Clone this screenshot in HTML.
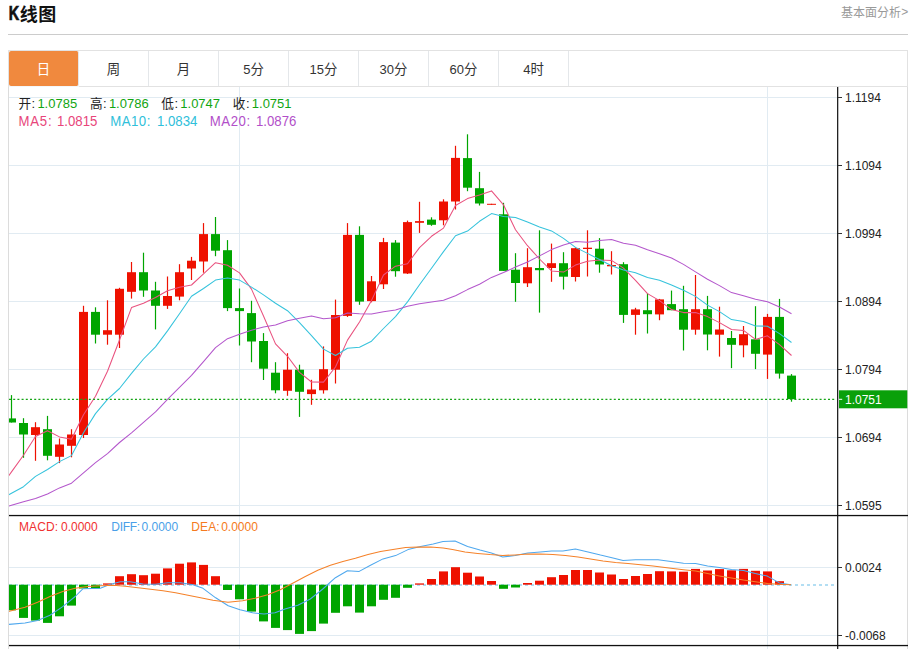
<!DOCTYPE html>
<html lang="zh-CN">
<head>
<meta charset="utf-8">
<title>K线图</title>
<style>
html,body{margin:0;padding:0;background:#fff;}
body{width:917px;height:649px;position:relative;overflow:hidden;font-family:"Liberation Sans","Noto Sans CJK SC",sans-serif;}
.rule{position:absolute;left:8px;top:34px;width:900px;height:1px;background:#ccc;}
.tabs{position:absolute;left:8px;top:50px;width:898px;height:35px;border:1px solid #e2e2e2;background:#fff;}
.tabs .tab{position:absolute;top:0;height:35px;width:69px;border-right:1px solid #e4e7ea;}
.tabs .tab.on{left:0;top:0;height:35px;width:69px;background:#f0893e;border-radius:2px;border-right:1px solid #e4e7ea;border-bottom:0;}
.tabs .under{position:absolute;left:0;top:35px;width:70px;height:1px;background:#f3f7fa;}
svg{position:absolute;left:0;top:0;}
svg text{font-family:"Liberation Sans","Noto Sans CJK SC",sans-serif;}
</style>
</head>
<body>
<div class="rule"></div>
<div class="tabs">
<div class="tab on"></div>
<div class="tab" style="left:70px"></div><div class="tab" style="left:140px"></div><div class="tab" style="left:210px"></div><div class="tab" style="left:280px"></div><div class="tab" style="left:350px"></div><div class="tab" style="left:420px"></div><div class="tab" style="left:490px"></div>
<div class="under"></div>
</div>
<svg width="917" height="649" viewBox="0 0 917 649">
<defs><clipPath id="cp"><rect x="9" y="87" width="828" height="562"/></clipPath></defs>
<rect x="9" y="97" width="828" height="1" fill="#e1ebf2"/>
<rect x="9" y="165" width="828" height="1" fill="#e1ebf2"/>
<rect x="9" y="233" width="828" height="1" fill="#e1ebf2"/>
<rect x="9" y="301" width="828" height="1" fill="#e1ebf2"/>
<rect x="9" y="369" width="828" height="1" fill="#e1ebf2"/>
<rect x="9" y="437" width="828" height="1" fill="#e1ebf2"/>
<rect x="9" y="505" width="828" height="1" fill="#e1ebf2"/>
<rect x="9" y="567" width="828" height="1" fill="#e1ebf2"/>
<rect x="9" y="635" width="828" height="1" fill="#e1ebf2"/>
<rect x="239" y="87" width="1" height="562" fill="#e1ebf2"/>
<rect x="767" y="87" width="1" height="562" fill="#e1ebf2"/>
<g clip-path="url(#cp)">
<rect x="10.9" y="395.1" width="1.2" height="27.4" fill="#00a500"/>
<rect x="7.0" y="418.4" width="9" height="4.1" fill="#00a500"/>
<rect x="22.9" y="418.2" width="1.2" height="39.6" fill="#00a500"/>
<rect x="19.0" y="423.0" width="9" height="11.5" fill="#00a500"/>
<rect x="34.9" y="422.2" width="1.2" height="38.6" fill="#ee1100"/>
<rect x="31.0" y="427.2" width="9" height="7.8" fill="#ee1100"/>
<rect x="46.9" y="415.9" width="1.2" height="44.4" fill="#00a500"/>
<rect x="43.0" y="429.2" width="9" height="26.6" fill="#00a500"/>
<rect x="58.9" y="438.5" width="1.2" height="24.6" fill="#ee1100"/>
<rect x="55.0" y="444.5" width="9" height="12.3" fill="#ee1100"/>
<rect x="70.9" y="429.2" width="1.2" height="28.1" fill="#ee1100"/>
<rect x="67.0" y="434.5" width="9" height="11.3" fill="#ee1100"/>
<rect x="82.9" y="305.8" width="1.2" height="132.2" fill="#ee1100"/>
<rect x="79.0" y="311.9" width="9" height="123.1" fill="#ee1100"/>
<rect x="94.9" y="307.3" width="1.2" height="36.2" fill="#00a500"/>
<rect x="91.0" y="311.9" width="9" height="22.8" fill="#00a500"/>
<rect x="106.9" y="300.3" width="1.2" height="44.4" fill="#ee1100"/>
<rect x="103.0" y="330.2" width="9" height="4.5" fill="#ee1100"/>
<rect x="118.9" y="287.8" width="1.2" height="60.2" fill="#ee1100"/>
<rect x="115.0" y="288.8" width="9" height="45.9" fill="#ee1100"/>
<rect x="130.9" y="262.0" width="1.2" height="36.6" fill="#ee1100"/>
<rect x="127.0" y="272.2" width="9" height="19.6" fill="#ee1100"/>
<rect x="142.9" y="252.7" width="1.2" height="44.1" fill="#00a500"/>
<rect x="139.0" y="272.2" width="9" height="18.3" fill="#00a500"/>
<rect x="154.9" y="281.8" width="1.2" height="47.6" fill="#00a500"/>
<rect x="151.0" y="290.5" width="9" height="15.3" fill="#00a500"/>
<rect x="166.9" y="276.5" width="1.2" height="32.4" fill="#ee1100"/>
<rect x="163.0" y="296.0" width="9" height="9.8" fill="#ee1100"/>
<rect x="178.9" y="264.2" width="1.2" height="36.1" fill="#ee1100"/>
<rect x="175.0" y="272.2" width="9" height="24.4" fill="#ee1100"/>
<rect x="190.9" y="256.9" width="1.2" height="23.1" fill="#ee1100"/>
<rect x="187.0" y="260.7" width="9" height="7.8" fill="#ee1100"/>
<rect x="202.9" y="223.1" width="1.2" height="49.6" fill="#ee1100"/>
<rect x="199.0" y="234.1" width="9" height="27.4" fill="#ee1100"/>
<rect x="214.9" y="217.0" width="1.2" height="39.2" fill="#00a500"/>
<rect x="211.0" y="234.1" width="9" height="16.6" fill="#00a500"/>
<rect x="226.9" y="240.1" width="1.2" height="71.0" fill="#00a500"/>
<rect x="223.0" y="250.2" width="9" height="57.9" fill="#00a500"/>
<rect x="238.9" y="288.5" width="1.2" height="57.0" fill="#00a500"/>
<rect x="235.0" y="308.1" width="9" height="3.0" fill="#00a500"/>
<rect x="250.9" y="300.8" width="1.2" height="61.4" fill="#00a500"/>
<rect x="247.0" y="313.1" width="9" height="28.4" fill="#00a500"/>
<rect x="262.9" y="333.1" width="1.2" height="46.9" fill="#00a500"/>
<rect x="259.0" y="341.0" width="9" height="27.7" fill="#00a500"/>
<rect x="274.9" y="362.2" width="1.2" height="31.1" fill="#00a500"/>
<rect x="271.0" y="372.7" width="9" height="17.6" fill="#00a500"/>
<rect x="286.9" y="353.2" width="1.2" height="42.6" fill="#ee1100"/>
<rect x="283.0" y="369.7" width="9" height="21.1" fill="#ee1100"/>
<rect x="298.9" y="364.7" width="1.2" height="52.2" fill="#00a500"/>
<rect x="295.0" y="369.7" width="9" height="22.1" fill="#00a500"/>
<rect x="310.9" y="379.8" width="1.2" height="25.0" fill="#ee1100"/>
<rect x="307.0" y="389.5" width="9" height="4.6" fill="#ee1100"/>
<rect x="322.9" y="346.4" width="1.2" height="47.2" fill="#ee1100"/>
<rect x="319.0" y="369.2" width="9" height="21.1" fill="#ee1100"/>
<rect x="334.9" y="299.6" width="1.2" height="83.9" fill="#ee1100"/>
<rect x="331.0" y="315.0" width="9" height="54.7" fill="#ee1100"/>
<rect x="346.9" y="223.1" width="1.2" height="93.8" fill="#ee1100"/>
<rect x="343.0" y="234.9" width="9" height="81.0" fill="#ee1100"/>
<rect x="358.9" y="226.3" width="1.2" height="78.5" fill="#00a500"/>
<rect x="355.0" y="234.9" width="9" height="66.7" fill="#00a500"/>
<rect x="370.9" y="276.0" width="1.2" height="26.3" fill="#ee1100"/>
<rect x="367.0" y="281.3" width="9" height="19.8" fill="#ee1100"/>
<rect x="382.9" y="237.9" width="1.2" height="51.1" fill="#ee1100"/>
<rect x="379.0" y="242.1" width="9" height="42.2" fill="#ee1100"/>
<rect x="394.9" y="240.1" width="1.2" height="36.6" fill="#00a500"/>
<rect x="391.0" y="242.6" width="9" height="28.6" fill="#00a500"/>
<rect x="406.9" y="220.6" width="1.2" height="53.4" fill="#ee1100"/>
<rect x="403.0" y="222.1" width="9" height="51.4" fill="#ee1100"/>
<rect x="418.9" y="201.8" width="1.2" height="31.1" fill="#ee1100"/>
<rect x="415.0" y="221.1" width="9" height="1.7" fill="#ee1100"/>
<rect x="430.9" y="217.3" width="1.2" height="8.5" fill="#00a500"/>
<rect x="427.0" y="219.6" width="9" height="5.2" fill="#00a500"/>
<rect x="442.9" y="199.3" width="1.2" height="26.0" fill="#ee1100"/>
<rect x="439.0" y="201.5" width="9" height="18.8" fill="#ee1100"/>
<rect x="454.9" y="145.8" width="1.2" height="63.7" fill="#ee1100"/>
<rect x="451.0" y="157.9" width="9" height="43.6" fill="#ee1100"/>
<rect x="466.9" y="134.3" width="1.2" height="56.9" fill="#00a500"/>
<rect x="463.0" y="158.1" width="9" height="29.6" fill="#00a500"/>
<rect x="478.9" y="171.9" width="1.2" height="33.6" fill="#00a500"/>
<rect x="475.0" y="188.2" width="9" height="15.3" fill="#00a500"/>
<rect x="490.9" y="203.8" width="1.2" height="1.0" fill="#ee1100"/>
<rect x="487.0" y="203.8" width="9" height="1.0" fill="#ee1100"/>
<rect x="502.9" y="202.8" width="1.2" height="68.1" fill="#00a500"/>
<rect x="499.0" y="214.3" width="9" height="56.6" fill="#00a500"/>
<rect x="514.9" y="253.2" width="1.2" height="48.6" fill="#00a500"/>
<rect x="511.0" y="269.7" width="9" height="13.3" fill="#00a500"/>
<rect x="526.9" y="248.2" width="1.2" height="38.8" fill="#ee1100"/>
<rect x="523.0" y="267.2" width="9" height="16.1" fill="#ee1100"/>
<rect x="538.9" y="230.3" width="1.2" height="82.3" fill="#00a500"/>
<rect x="535.0" y="268.0" width="9" height="2.2" fill="#00a500"/>
<rect x="550.9" y="243.6" width="1.2" height="38.2" fill="#ee1100"/>
<rect x="547.0" y="263.2" width="9" height="4.8" fill="#ee1100"/>
<rect x="562.9" y="252.2" width="1.2" height="37.3" fill="#00a500"/>
<rect x="559.0" y="263.2" width="9" height="13.5" fill="#00a500"/>
<rect x="574.9" y="247.4" width="1.2" height="34.1" fill="#ee1100"/>
<rect x="571.0" y="248.2" width="9" height="28.8" fill="#ee1100"/>
<rect x="586.9" y="230.3" width="1.2" height="46.2" fill="#ee1100"/>
<rect x="583.0" y="247.7" width="9" height="1.3" fill="#ee1100"/>
<rect x="598.9" y="238.1" width="1.2" height="34.6" fill="#00a500"/>
<rect x="595.0" y="248.7" width="9" height="15.8" fill="#00a500"/>
<rect x="610.9" y="251.2" width="1.2" height="23.3" fill="#ee1100"/>
<rect x="607.0" y="265.0" width="9" height="1.3" fill="#ee1100"/>
<rect x="622.9" y="262.2" width="1.2" height="60.7" fill="#00a500"/>
<rect x="619.0" y="264.2" width="9" height="50.7" fill="#00a500"/>
<rect x="634.9" y="307.8" width="1.2" height="26.9" fill="#ee1100"/>
<rect x="631.0" y="309.4" width="9" height="5.5" fill="#ee1100"/>
<rect x="646.9" y="293.4" width="1.2" height="40.1" fill="#00a500"/>
<rect x="643.0" y="310.2" width="9" height="4.0" fill="#00a500"/>
<rect x="658.9" y="298.9" width="1.2" height="21.3" fill="#ee1100"/>
<rect x="655.0" y="299.4" width="9" height="15.0" fill="#ee1100"/>
<rect x="670.9" y="290.6" width="1.2" height="19.6" fill="#00a500"/>
<rect x="667.0" y="304.1" width="9" height="6.1" fill="#00a500"/>
<rect x="682.9" y="285.8" width="1.2" height="64.7" fill="#00a500"/>
<rect x="679.0" y="309.2" width="9" height="20.5" fill="#00a500"/>
<rect x="694.9" y="275.0" width="1.2" height="59.7" fill="#ee1100"/>
<rect x="691.0" y="309.2" width="9" height="20.5" fill="#ee1100"/>
<rect x="706.9" y="295.9" width="1.2" height="54.4" fill="#00a500"/>
<rect x="703.0" y="309.2" width="9" height="25.3" fill="#00a500"/>
<rect x="718.9" y="306.7" width="1.2" height="49.9" fill="#ee1100"/>
<rect x="715.0" y="329.5" width="9" height="5.2" fill="#ee1100"/>
<rect x="730.9" y="331.0" width="1.2" height="37.1" fill="#00a500"/>
<rect x="727.0" y="338.0" width="9" height="6.8" fill="#00a500"/>
<rect x="742.9" y="326.0" width="1.2" height="31.3" fill="#ee1100"/>
<rect x="739.0" y="334.2" width="9" height="11.1" fill="#ee1100"/>
<rect x="754.9" y="306.2" width="1.2" height="62.9" fill="#00a500"/>
<rect x="751.0" y="339.3" width="9" height="14.5" fill="#00a500"/>
<rect x="766.9" y="313.9" width="1.2" height="65.0" fill="#ee1100"/>
<rect x="763.0" y="316.9" width="9" height="37.7" fill="#ee1100"/>
<rect x="778.9" y="298.9" width="1.2" height="79.7" fill="#00a500"/>
<rect x="775.0" y="316.9" width="9" height="56.7" fill="#00a500"/>
<rect x="790.9" y="374.1" width="1.2" height="27.6" fill="#00a500"/>
<rect x="787.0" y="375.6" width="9" height="23.6" fill="#00a500"/>
<line x1="9" y1="585" x2="835" y2="585" stroke="#9ad4f0" stroke-width="1.4" stroke-dasharray="3,3"/>
<rect x="7.0" y="584.7" width="9" height="25.6" fill="#00a500"/>
<rect x="19.0" y="584.7" width="9" height="33.2" fill="#00a500"/>
<rect x="31.0" y="584.7" width="9" height="35.9" fill="#00a500"/>
<rect x="43.0" y="584.7" width="9" height="38.2" fill="#00a500"/>
<rect x="55.0" y="584.7" width="9" height="31.6" fill="#00a500"/>
<rect x="67.0" y="584.7" width="9" height="20.9" fill="#00a500"/>
<rect x="79.0" y="584.7" width="9" height="3.8" fill="#00a500"/>
<rect x="91.0" y="584.7" width="9" height="3.8" fill="#00a500"/>
<rect x="103.0" y="583.4" width="9" height="1.3" fill="#ee1100"/>
<rect x="115.0" y="576.2" width="9" height="8.5" fill="#ee1100"/>
<rect x="127.0" y="574.2" width="9" height="10.5" fill="#ee1100"/>
<rect x="139.0" y="575.2" width="9" height="9.5" fill="#ee1100"/>
<rect x="151.0" y="573.7" width="9" height="11.0" fill="#ee1100"/>
<rect x="163.0" y="568.4" width="9" height="16.3" fill="#ee1100"/>
<rect x="175.0" y="563.7" width="9" height="21.0" fill="#ee1100"/>
<rect x="187.0" y="562.4" width="9" height="22.3" fill="#ee1100"/>
<rect x="199.0" y="564.9" width="9" height="19.8" fill="#ee1100"/>
<rect x="211.0" y="576.2" width="9" height="8.5" fill="#ee1100"/>
<rect x="223.0" y="584.7" width="9" height="5.3" fill="#00a500"/>
<rect x="235.0" y="584.7" width="9" height="14.6" fill="#00a500"/>
<rect x="247.0" y="584.7" width="9" height="26.9" fill="#00a500"/>
<rect x="259.0" y="584.7" width="9" height="36.7" fill="#00a500"/>
<rect x="271.0" y="584.7" width="9" height="43.2" fill="#00a500"/>
<rect x="283.0" y="584.7" width="9" height="45.4" fill="#00a500"/>
<rect x="295.0" y="584.7" width="9" height="49.2" fill="#00a500"/>
<rect x="307.0" y="584.7" width="9" height="46.4" fill="#00a500"/>
<rect x="319.0" y="584.7" width="9" height="38.9" fill="#00a500"/>
<rect x="331.0" y="584.7" width="9" height="28.1" fill="#00a500"/>
<rect x="343.0" y="584.7" width="9" height="21.6" fill="#00a500"/>
<rect x="355.0" y="584.7" width="9" height="27.9" fill="#00a500"/>
<rect x="367.0" y="584.7" width="9" height="21.6" fill="#00a500"/>
<rect x="379.0" y="584.7" width="9" height="15.1" fill="#00a500"/>
<rect x="391.0" y="584.7" width="9" height="13.1" fill="#00a500"/>
<rect x="403.0" y="584.7" width="9" height="3.1" fill="#00a500"/>
<rect x="415.0" y="583.4" width="9" height="1.3" fill="#ee1100"/>
<rect x="427.0" y="579.0" width="9" height="5.7" fill="#ee1100"/>
<rect x="439.0" y="571.4" width="9" height="13.3" fill="#ee1100"/>
<rect x="451.0" y="567.2" width="9" height="17.5" fill="#ee1100"/>
<rect x="463.0" y="572.7" width="9" height="12.0" fill="#ee1100"/>
<rect x="475.0" y="576.5" width="9" height="8.2" fill="#ee1100"/>
<rect x="487.0" y="581.0" width="9" height="3.7" fill="#ee1100"/>
<rect x="499.0" y="584.7" width="9" height="4.1" fill="#00a500"/>
<rect x="511.0" y="584.7" width="9" height="2.8" fill="#00a500"/>
<rect x="523.0" y="583.0" width="9" height="1.7" fill="#ee1100"/>
<rect x="535.0" y="580.7" width="9" height="4.0" fill="#ee1100"/>
<rect x="547.0" y="577.2" width="9" height="7.5" fill="#ee1100"/>
<rect x="559.0" y="575.0" width="9" height="9.7" fill="#ee1100"/>
<rect x="571.0" y="570.0" width="9" height="14.7" fill="#ee1100"/>
<rect x="583.0" y="570.0" width="9" height="14.7" fill="#ee1100"/>
<rect x="595.0" y="572.5" width="9" height="12.2" fill="#ee1100"/>
<rect x="607.0" y="574.5" width="9" height="10.2" fill="#ee1100"/>
<rect x="619.0" y="579.0" width="9" height="5.7" fill="#ee1100"/>
<rect x="631.0" y="576.0" width="9" height="8.7" fill="#ee1100"/>
<rect x="643.0" y="574.0" width="9" height="10.7" fill="#ee1100"/>
<rect x="655.0" y="571.2" width="9" height="13.5" fill="#ee1100"/>
<rect x="667.0" y="571.4" width="9" height="13.3" fill="#ee1100"/>
<rect x="679.0" y="571.7" width="9" height="13.0" fill="#ee1100"/>
<rect x="691.0" y="568.9" width="9" height="15.8" fill="#ee1100"/>
<rect x="703.0" y="570.5" width="9" height="14.2" fill="#ee1100"/>
<rect x="715.0" y="569.1" width="9" height="15.6" fill="#ee1100"/>
<rect x="727.0" y="570.3" width="9" height="14.4" fill="#ee1100"/>
<rect x="739.0" y="568.9" width="9" height="15.8" fill="#ee1100"/>
<rect x="751.0" y="570.8" width="9" height="13.9" fill="#ee1100"/>
<rect x="763.0" y="571.4" width="9" height="13.3" fill="#ee1100"/>
<rect x="775.0" y="581.2" width="9" height="3.5" fill="#ee1100"/>
<polyline fill="none" stroke="#e9527f" stroke-width="1.05" stroke-linejoin="round" points="-0.5,488.7 11.5,471.9 23.5,455.3 35.5,436.5 47.5,430.7 59.5,436.9 71.5,439.3 83.5,414.8 95.5,396.3 107.5,371.2 119.5,340.0 131.5,307.6 143.5,303.3 155.5,297.5 167.5,290.7 179.5,287.3 191.5,285.0 203.5,273.8 215.5,262.7 227.5,265.2 239.5,272.9 251.5,289.1 263.5,316.0 275.5,343.9 287.5,356.3 299.5,372.4 311.5,382.0 323.5,382.1 335.5,367.0 347.5,340.1 359.5,322.0 371.5,300.4 383.5,275.0 395.5,266.2 407.5,263.7 419.5,247.6 431.5,236.3 443.5,228.1 455.5,205.5 467.5,198.6 479.5,195.1 491.5,190.9 503.5,204.8 515.5,229.8 527.5,245.7 539.5,259.0 551.5,270.9 563.5,272.1 575.5,265.1 587.5,261.2 599.5,260.1 611.5,260.4 623.5,268.1 635.5,280.3 647.5,293.6 659.5,300.6 671.5,309.6 683.5,312.6 695.5,312.5 707.5,316.6 719.5,322.6 731.5,329.5 743.5,330.4 755.5,339.4 767.5,335.8 779.5,344.7 791.5,355.5"/>
<polyline fill="none" stroke="#36c3dc" stroke-width="1.05" stroke-linejoin="round" points="-0.5,500.0 11.5,493.3 23.5,486.7 35.5,476.4 47.5,469.5 59.5,461.6 71.5,455.6 83.5,432.7 95.5,413.6 107.5,399.3 119.5,388.5 131.5,373.4 143.5,359.0 155.5,346.9 167.5,330.9 179.5,313.7 191.5,296.3 203.5,288.5 215.5,280.1 227.5,277.9 239.5,280.1 251.5,287.1 263.5,294.9 275.5,303.3 287.5,310.7 299.5,322.7 311.5,335.6 323.5,349.1 335.5,355.5 347.5,348.2 359.5,347.2 371.5,341.2 383.5,328.5 395.5,316.6 407.5,301.9 419.5,284.8 431.5,268.3 443.5,251.6 455.5,235.8 467.5,231.1 479.5,221.3 491.5,213.6 503.5,216.4 515.5,217.6 527.5,222.1 539.5,227.1 551.5,230.9 563.5,238.4 575.5,247.4 587.5,253.4 599.5,259.5 611.5,265.7 623.5,270.1 635.5,272.7 647.5,277.4 659.5,280.3 671.5,285.0 683.5,290.3 695.5,296.4 707.5,305.1 719.5,311.6 731.5,319.6 743.5,321.5 755.5,325.9 767.5,326.2 779.5,333.6 791.5,342.5"/>
<polyline fill="none" stroke="#b457cc" stroke-width="1.05" stroke-linejoin="round" points="-0.5,509.0 11.5,505.3 23.5,501.7 35.5,498.6 47.5,494.0 59.5,487.9 71.5,483.2 83.5,472.9 95.5,462.7 107.5,453.6 119.5,442.5 131.5,432.8 143.5,422.3 155.5,411.9 167.5,399.4 179.5,387.4 191.5,375.3 203.5,361.6 215.5,347.7 227.5,338.7 239.5,334.3 251.5,330.2 263.5,327.0 275.5,325.1 287.5,320.8 299.5,318.2 311.5,315.9 323.5,318.8 335.5,317.8 347.5,313.0 359.5,313.7 371.5,314.1 383.5,311.7 395.5,310.0 407.5,306.3 419.5,303.7 431.5,301.9 443.5,300.3 455.5,295.7 467.5,289.6 479.5,284.3 491.5,277.4 503.5,272.5 515.5,267.1 527.5,262.0 539.5,255.9 551.5,249.6 563.5,245.0 575.5,241.6 587.5,242.3 599.5,240.4 611.5,239.6 623.5,243.3 635.5,245.2 647.5,249.8 659.5,253.7 671.5,258.0 683.5,264.4 695.5,271.9 707.5,279.3 719.5,285.6 731.5,292.6 743.5,295.8 755.5,299.3 767.5,301.8 779.5,307.0 791.5,313.8"/>
<polyline fill="none" stroke="#4fa8ee" stroke-width="1.05" stroke-linejoin="round" points="-1,625 9.0,624.4 25.0,622.9 37.6,620.4 50.0,615.3 62.7,606.6 75.2,596.5 82.8,588.8 100.3,588.3 110.4,584.2 120.4,581.7 130.0,581.7 143.0,584.0 155.5,584.2 168.0,582.7 180.6,582.7 193.0,584.7 203.0,588.3 215.7,597.8 228.2,605.8 240.0,609.8 252.6,612.8 264.0,614.1 275.0,612.8 285.0,609.1 297.8,605.3 310.3,599.0 322.8,589.0 335.4,577.7 347.4,570.7 359.2,571.4 370.5,565.2 383.0,558.9 395.6,555.6 408.0,549.6 420.6,546.4 433.2,543.9 443.0,541.6 455.0,541.1 467.6,546.4 480.0,550.1 491.4,553.1 502.7,556.9 515.2,555.6 527.8,553.1 540.3,552.1 551.6,551.1 562.9,550.9 575.4,549.1 588.0,551.9 600.5,555.1 613.0,557.9 623.0,560.4 635.6,559.7 648.0,559.7 658.0,559.7 671.0,561.6 683.5,563.3 695.6,563.5 707.6,566.0 719.4,567.5 731.5,569.4 743.5,570.5 755.3,573.6 767.3,576.1 779.4,582.9 791.0,584.8"/>
<polyline fill="none" stroke="#f5822a" stroke-width="1.05" stroke-linejoin="round" points="-1,614 9.3,611.3 25.0,607.3 37.6,602.3 50.0,596.5 62.7,591.5 75.2,588.3 87.8,586.5 100.3,585.7 113.0,585.2 125.4,586.2 138.0,587.8 150.5,589.3 163.0,590.8 175.6,592.8 188.0,595.3 200.6,597.8 213.0,600.3 228.0,602.3 242.6,600.8 255.0,598.3 267.7,594.8 280.2,589.8 292.7,583.2 305.3,576.5 317.8,570.2 330.4,565.2 342.9,561.4 355.4,558.2 368.0,554.6 380.5,551.4 393.0,549.4 405.6,547.6 418.0,547.1 430.7,547.1 443.2,548.1 452.5,549.6 465.0,551.9 477.6,553.4 490.0,554.6 502.7,555.4 515.0,554.9 527.8,554.1 540.3,554.1 552.9,554.6 565.4,555.6 578.0,557.1 590.5,558.9 603.0,560.9 615.6,562.4 628.0,563.4 640.6,564.7 653.0,565.9 671.0,568.3 683.5,569.7 695.6,571.1 707.6,573.6 719.4,575.9 731.5,578.1 743.5,580.1 755.3,581.7 767.3,583.4 779.4,584.3 791.0,584.8"/>
</g>
<line x1="9" y1="399.3" x2="836" y2="399.3" stroke="#16a516" stroke-width="1.3" stroke-dasharray="2,2.2"/>
<rect x="8" y="87" width="1" height="562" fill="#dcdcdc"/>
<rect x="907" y="87" width="1" height="562" fill="#dcdcdc"/>
<rect x="837" y="87" width="1.3" height="562" fill="#222"/>
<rect x="9" y="514.9" width="899" height="1.3" fill="#111"/>
<rect x="9" y="644.9" width="899" height="1.3" fill="#111"/>
<rect x="838" y="97" width="4" height="1" fill="#333"/>
<text x="845" y="101.8" font-size="12" fill="#222">1.1194</text>
<rect x="838" y="165" width="4" height="1" fill="#333"/>
<text x="845" y="169.8" font-size="12" fill="#222">1.1094</text>
<rect x="838" y="233" width="4" height="1" fill="#333"/>
<text x="845" y="237.8" font-size="12" fill="#222">1.0994</text>
<rect x="838" y="301" width="4" height="1" fill="#333"/>
<text x="845" y="305.8" font-size="12" fill="#222">1.0894</text>
<rect x="838" y="369" width="4" height="1" fill="#333"/>
<text x="845" y="373.8" font-size="12" fill="#222">1.0794</text>
<rect x="838" y="437" width="4" height="1" fill="#333"/>
<text x="845" y="441.8" font-size="12" fill="#222">1.0694</text>
<rect x="838" y="505" width="4" height="1" fill="#333"/>
<text x="845" y="509.8" font-size="12" fill="#222">1.0595</text>
<rect x="838" y="567" width="4" height="1" fill="#333"/>
<text x="845" y="571.8" font-size="12" fill="#222">0.0024</text>
<rect x="838" y="635" width="4" height="1" fill="#333"/>
<text x="845" y="639.8" font-size="12" fill="#222">-0.0068</text>
<rect x="839" y="390.3" width="68.3" height="18" fill="#0aa00a"/>
<rect x="839" y="398.8" width="3.2" height="1" fill="#fff"/>
<text x="845" y="403.6" font-size="12" fill="#fff">1.0751</text>
<text x="18.4" y="108.4" font-size="12.6" fill="#222">开</text>
<text x="31.6" y="107.5" font-size="13" fill="#222">:</text>
<text x="37.4" y="107.5" font-size="13" fill="#12a512">1.0785</text>
<text x="89.9" y="108.4" font-size="12.6" fill="#222">高</text>
<text x="103.1" y="107.5" font-size="13" fill="#222">:</text>
<text x="108.9" y="107.5" font-size="13" fill="#12a512">1.0786</text>
<text x="161.3" y="108.4" font-size="12.6" fill="#222">低</text>
<text x="174.5" y="107.5" font-size="13" fill="#222">:</text>
<text x="180.3" y="107.5" font-size="13" fill="#12a512">1.0747</text>
<text x="232.8" y="108.4" font-size="12.6" fill="#222">收</text>
<text x="246.0" y="107.5" font-size="13" fill="#222">:</text>
<text x="251.8" y="107.5" font-size="13" fill="#12a512">1.0751</text>
<text transform="translate(18.6,125.7) scale(1,1.05)" font-size="13.2" letter-spacing="0.75" fill="#e8457a">MA5:</text>
<text transform="translate(57,125.7) scale(1,1.05)" font-size="13.2" fill="#e8457a">1.0815</text>
<text transform="translate(110.2,125.7) scale(1,1.05)" font-size="13.2" letter-spacing="0.5" fill="#2fc0da">MA10:</text>
<text transform="translate(157,125.7) scale(1,1.05)" font-size="13.2" fill="#2fc0da">1.0834</text>
<text transform="translate(209.8,125.7) scale(1,1.05)" font-size="13.2" letter-spacing="0.55" fill="#b24fc9">MA20:</text>
<text transform="translate(256,125.7) scale(1,1.05)" font-size="13.2" fill="#b24fc9">1.0876</text>
<text x="19" y="531.1" font-size="12" letter-spacing="0.1" fill="#f03030">MACD:</text>
<text x="61" y="531.1" font-size="12" fill="#f03030">0.0000</text>
<text x="111.3" y="531.1" font-size="12" letter-spacing="-0.3" fill="#4a9fe8">DIFF:</text>
<text x="141.5" y="531.1" font-size="12" fill="#4a9fe8">0.0000</text>
<text x="191.3" y="531.1" font-size="12" letter-spacing="0.1" fill="#f57a20">DEA:</text>
<text x="221.2" y="531.1" font-size="12" fill="#f57a20">0.0000</text>
<text transform="translate(8.7,19.6) scale(0.73,1)" x="0" y="0" font-size="19.8" font-weight="bold" fill="#111" stroke="#111" stroke-width="0.7">K</text>
<text x="19.8" y="20.5" font-size="18" font-weight="bold" fill="#111">线</text>
<text x="38.2" y="20.5" font-size="18" font-weight="bold" fill="#111">图</text>
<text x="841" y="16.6" font-size="12" fill="#999">基本面分析</text>
<text x="901.3" y="16.2" font-size="12" fill="#999">&gt;</text>
<text x="36.8" y="74.2" font-size="13.4" fill="#fff">日</text>
<text x="106.8" y="74.2" font-size="13.4" fill="#333">周</text>
<text x="176.8" y="74.2" font-size="13.4" fill="#333">月</text>
<text x="243.2" y="73.9" font-size="13" fill="#333">5</text>
<text x="250.41" y="74.2" font-size="13.4" fill="#333">分</text>
<text x="309.6" y="73.9" font-size="13" fill="#333">15</text>
<text x="324.03" y="74.2" font-size="13.4" fill="#333">分</text>
<text x="379.6" y="73.9" font-size="13" fill="#333">30</text>
<text x="394.03" y="74.2" font-size="13.4" fill="#333">分</text>
<text x="449.6" y="73.9" font-size="13" fill="#333">60</text>
<text x="464.03" y="74.2" font-size="13.4" fill="#333">分</text>
<text x="523.2" y="73.9" font-size="13" fill="#333">4</text>
<text x="530.41" y="74.2" font-size="13.4" fill="#333">时</text>
</svg>
</body>
</html>
